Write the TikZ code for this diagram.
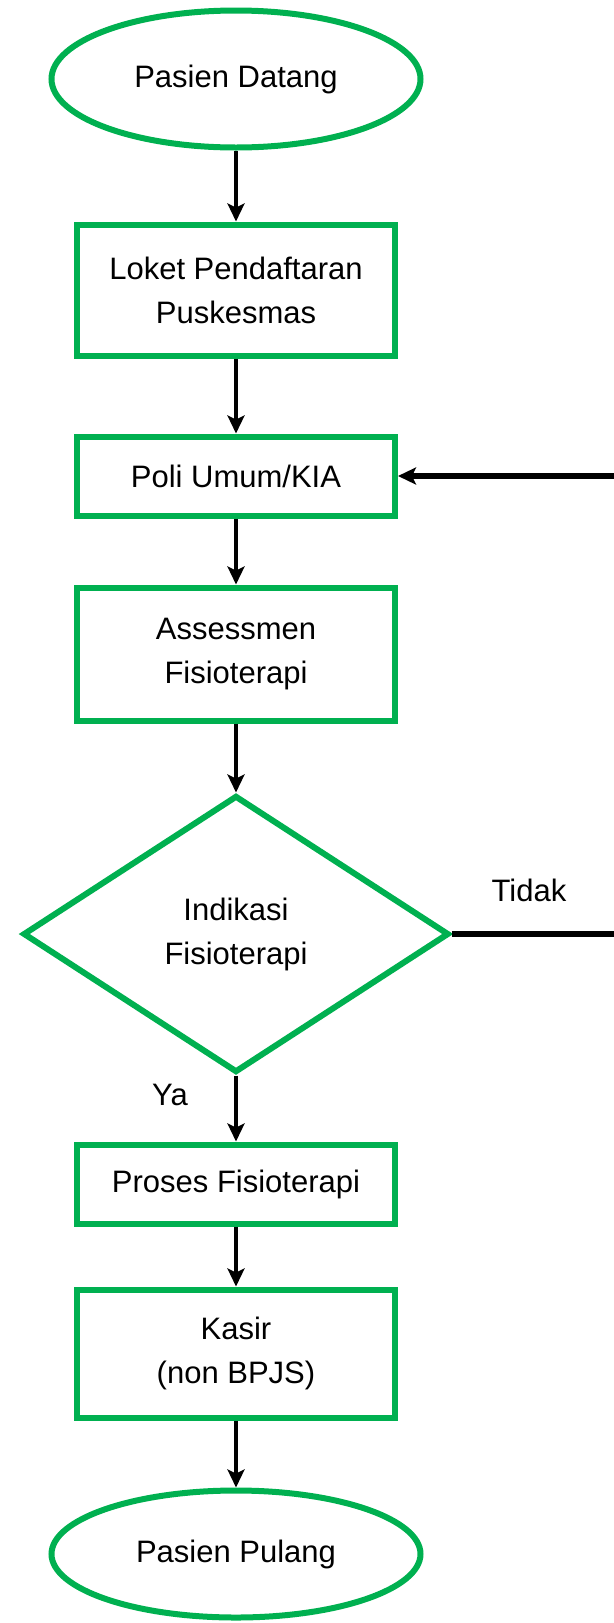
\documentclass[tikz,border=0pt]{standalone}
\usepackage{fontspec}
\setmainfont{Liberation Sans}
\usetikzlibrary{arrows.meta,positioning,shapes.geometric}
\definecolor{hijau}{RGB}{0,176,80}
\tikzset{
    %Define standard arrow tip
    >={Stealth[length=9pt,width=8.5pt,inset=2pt]},
    %Define style for start and end
    terminal/.style={
           ellipse,
           draw=hijau, line width=3pt,
           minimum width=184.5pt,
           minimum height=68.5pt,
           inner sep=0pt,
           font=\fontsize{15.5pt}{22pt}\selectfont,
           text centered},
    %Define style for boxes
    prosesbox/.style={
           rectangle,
           draw=hijau, line width=3pt,
           minimum width=159pt,
           minimum height=39.5pt,
           inner sep=0pt,
           font=\fontsize{15.5pt}{22pt}\selectfont,
           align=center},
    %Define style for the decision
    keputusan/.style={
           diamond,
           draw=hijau, line width=3pt,
           minimum width=213pt,
           minimum height=138.5pt,
           inner sep=0pt,
           font=\fontsize{15.5pt}{22pt}\selectfont,
           align=center},
    teks/.style={
           inner sep=0pt,
           font=\fontsize{15.5pt}{22pt}\selectfont},
    % Define arrow style
    panah/.style={
           ->,
           draw=black,
           line width=2.2pt}
}
\begin{document}
\begin{tikzpicture}[node distance=34pt]
\useasboundingbox (0,0) rectangle (307pt,-811.5pt);
 %nodes
\node[terminal](datang) at (118pt,-39.5pt){Pasien Datang};
\node[prosesbox, below=35.5pt of datang, minimum height=65.5pt](loket){Loket Pendaftaran\\Puskesmas};
\node[prosesbox, below=37.5pt of loket](poli){Poli Umum/KIA};
\node[prosesbox, below=33pt of poli, minimum height=66.5pt](assess){Assessmen\\Fisioterapi};
\node[keputusan, below=34.5pt of assess](indikasi){Indikasi\\Fisioterapi};
\node[prosesbox, below=33pt of indikasi](proses){Proses Fisioterapi};
\node[prosesbox, below=30pt of proses, minimum height=64pt](kasir){Kasir\\(non BPJS)};
\node[terminal, below=33.5pt of kasir, minimum height=63.5pt](pulang){Pasien Pulang};
 %loose ends at the right edge
\coordinate (tepi) at (307pt,0);
\coordinate (balik) at (poli.east -| tepi);
\coordinate (tidak) at (indikasi.east -| tepi);
 %edges
\path[panah]
    (datang) edge (loket)
    (loket) edge (poli)
    (poli) edge (assess)
    (assess) edge (indikasi)
    (indikasi) edge node[teks, pos=0.3, left=23pt]{Ya} (proses)
    (proses) edge (kasir)
    (kasir) edge (pulang);
\draw[panah, line width=3pt] (balik) -- (poli);
\draw[line width=3pt] (indikasi.east) -- node[teks, above=14.5pt, xshift=-2pt]{Tidak} (tidak);
\end{tikzpicture}
\end{document}
